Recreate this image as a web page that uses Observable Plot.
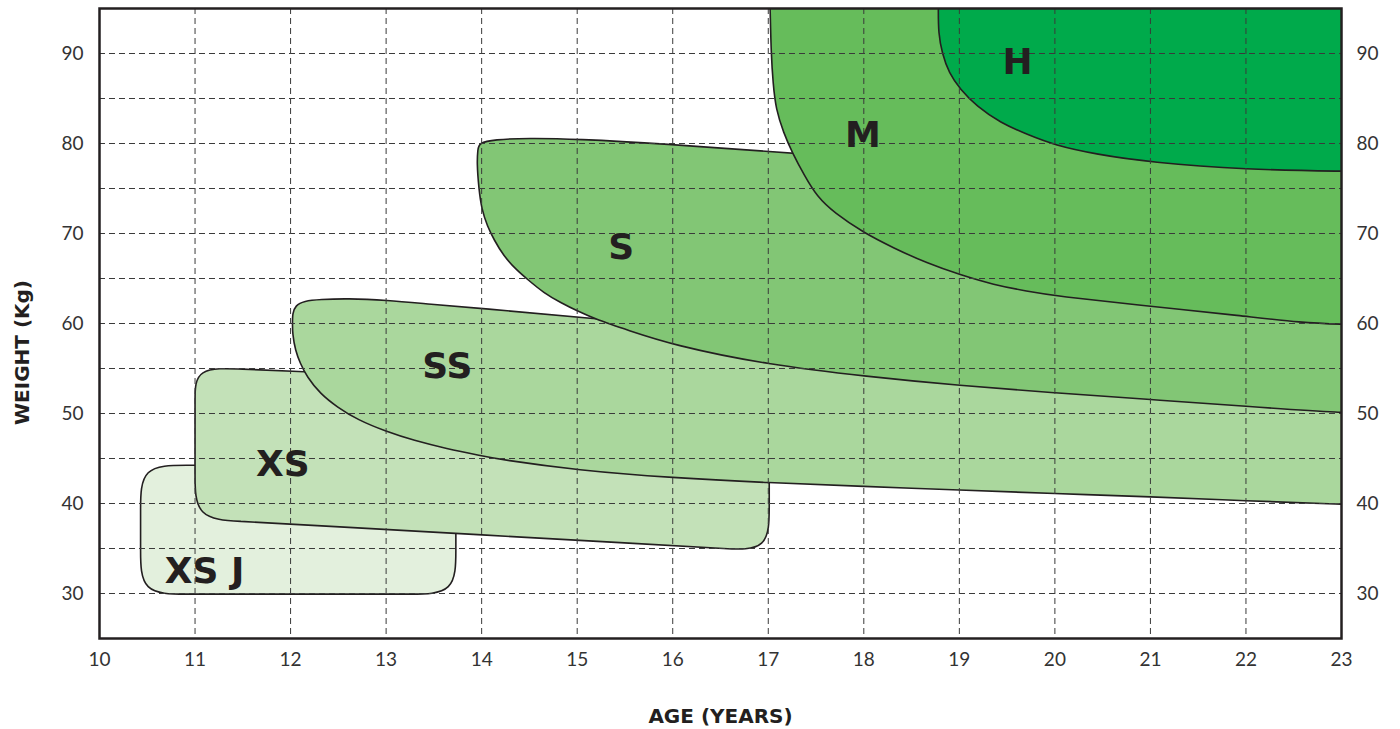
<!DOCTYPE html>
<html><head><meta charset="utf-8">
<script src="https://cdn.jsdelivr.net/npm/d3@7"></script>
<script src="https://cdn.jsdelivr.net/npm/@observablehq/plot@0.6"></script>
<style>body{margin:0;background:#fff}</style>
</head><body><div id="chart"></div>
<script>
const ageTicks = [10,11,12,13,14,15,16,17,18,19,20,21,22,23];
const weightTicks = [30,40,50,60,70,80,90];
const gridAges = [11,12,13,14,15,16,17,18,19,20,21,22];
const gridWeights = [30,35,40,45,50,55,60,65,70,75,80,85,90];

const sizes = ["XS J","XS","SS","S","M","H"];
const fills = ["#e3f0dd","#c3e1b8","#aad79d","#82c675","#66bc5b","#00aa4b"];
const labelAge = [11.1, 11.92, 13.64, 15.46, 17.99, 19.61];
const labelWeight = [32.4, 44.3, 55.2, 68.4, 80.9, 89.0];

// outline control points of each size zone, [age, weight]
const zoneXSJ = [[10.43,44.25],[10.91,44.25],[11.39,44.25],[12.77,44.25],[13.25,44.25],
  [13.73,44.25],[13.73,39.25],[13.73,34.93],
  [13.73,29.93],[13.25,29.93],[12.77,29.93],[11.39,29.93],[10.91,29.93],
  [10.43,29.93],[10.43,34.93],[10.43,39.25]];
const zoneXS = [[11.0,55.16],[11.5,54.93],[12.0,54.7],[13.0,54.23],[16.0,51.7],
  [17.01,51.0],[17.01,47.0],[17.01,44.72],[17.01,39.72],
  [17.01,34.72],[16.53,35.01],[16.05,35.29],[11.96,37.73],[11.48,38.01],
  [11.0,38.3],[11.0,43.3],[11.0,47.4],[11.0,51.56]];
const zoneSS = [[12.02,60.0],[12.02,61.1],[12.05,62.0],[12.14,62.5],[12.31,62.67],[12.59,62.78],
  [13.0,62.6],[13.46,62.15],[14.0,61.67],[15.0,60.74],[17.0,58.7],[20.0,57.5],[23.0,57.0],
  [23.6,57.0],[23.6,57.0],[23.6,57.0],[23.6,39.8],[23.6,39.8],[23.6,39.8],
  [23.0,39.9],[22.0,40.3],[21.0,40.75],[20.0,41.1],[19.0,41.5],
  [18.0,41.9],[17.0,42.3],[16.0,42.85],[15.0,43.7],[14.19,44.9],[14.0,45.3],[13.63,46.1],
  [13.29,47.0],[13.0,48.0],[12.7,49.3],[12.49,50.7],[12.31,52.2],[12.17,54.1],[12.1,55.6],
  [12.05,57.0],[12.02,58.9]];
const zoneS = [[13.97,80.07],[14.13,80.44],[14.48,80.6],[15.0,80.5],[15.87,80.0],[17.23,78.9],
  [20.0,77.0],[23.0,76.0],[23.6,76.0],[23.6,76.0],[23.6,76.0],[23.6,50.0],[23.6,50.0],[23.6,50.0],
  [23.0,50.05],[22.0,50.8],[21.0,51.55],
  [20.0,52.3],[19.0,53.1],[18.04,54.1],[17.0,55.4],[16.0,57.6],[15.52,59.3],[15.21,60.4],
  [15.0,61.4],[14.83,62.3],[14.65,63.4],[14.48,64.9],[14.36,66.0],[14.23,67.5],[14.13,69.3],
  [14.06,70.8],[14.0,72.7],[13.97,75.0],[13.95,77.9],[13.96,79.3]];
const zoneM = [[17.01,98],[17.01,98],[17.01,98],[17.015,96.5],[17.02,94.9],[17.03,90.0],[17.05,86.7],
  [17.08,83.8],[17.16,81.2],[17.25,79.0],[17.38,76.4],[17.51,74.1],[17.69,72.3],[18.0,70.07],
  [18.31,68.4],[18.66,66.7],[19.01,65.4],[19.36,64.3],[19.7,63.6],[20.05,63.0],[20.84,62.1],
  [22.0,60.8],[22.58,60.1],[23.0,59.9],[23.6,59.8],[23.6,59.8],[23.6,59.8],[23.6,98],[23.6,98],[23.6,98]];
const zoneH = [[18.78,98],[18.78,98],[18.78,98],[18.78,96.5],[18.78,94.9],[18.78,92.3],[18.82,90.0],
  [18.89,87.85],[19.01,86.0],[19.18,84.15],[19.43,82.3],[19.71,81.0],[20.0,79.8],[20.43,78.8],
  [21.0,77.9],[22.0,77.1],[23.0,76.9],[23.6,76.9],[23.6,76.9],[23.6,76.9],[23.6,98],[23.6,98],[23.6,98]];
const zones = [zoneXSJ, zoneXS, zoneSS, zoneS, zoneM, zoneH];

const ink = "#231f20";
const boldFont = "'DejaVu Sans', sans-serif";
const labels = sizes.map((s,i) => ({size: s, age: labelAge[i], weight: labelWeight[i]}));

const zoneMarks = zones.map((pts, i) => Plot.line(pts, {
  x: d => d[0], y: d => d[1], curve: "basis-closed",
  fill: fills[i], stroke: ink, strokeWidth: 1.6, clip: true
}));

const chart = Plot.plot({
  width: 1400, height: 729,
  marginLeft: 99, marginRight: 59, marginTop: 8, marginBottom: 91,
  style: {fontFamily: "Lato, sans-serif", fontSize: "19px", color: "#333", background: "#fff"},
  x: {domain: [10, 23]},
  y: {domain: [25, 95]},
  marks: [
    ...zoneMarks,
    Plot.gridX(gridAges, {stroke: "#3a3a3a", strokeOpacity: 1, strokeWidth: 1, strokeDasharray: "6,4"}),
    Plot.gridY(gridWeights, {stroke: "#3a3a3a", strokeOpacity: 1, strokeWidth: 1, strokeDasharray: "6,4"}),
    Plot.frame({stroke: ink, strokeWidth: 2.5}),
    Plot.axisX(ageTicks, {tickSize: 0, tickPadding: 14, label: null}),
    Plot.axisY(weightTicks, {anchor: "left", tickSize: 0, tickPadding: 16, label: null}),
    Plot.axisY(weightTicks, {anchor: "right", tickSize: 0, tickPadding: 15, label: null}),
    Plot.text(labels, {x: "age", y: "weight", text: "size", fontSize: 36, fontWeight: "bold", fontFamily: boldFont, fill: ink}),
    Plot.text(["AGE (YEARS)"], {frameAnchor: "bottom", textAnchor: "middle", lineAnchor: "middle", dy: 78, fontSize: 20, fontWeight: "bold", fontFamily: boldFont, fill: ink}),
    Plot.text(["WEIGHT (Kg)"], {frameAnchor: "left", textAnchor: "middle", lineAnchor: "middle", dx: -77, dy: 29, rotate: -90, fontSize: 20, fontWeight: "bold", fontFamily: boldFont, fill: ink})
  ]
});
document.getElementById("chart").append(chart);
</script>
</body></html>
